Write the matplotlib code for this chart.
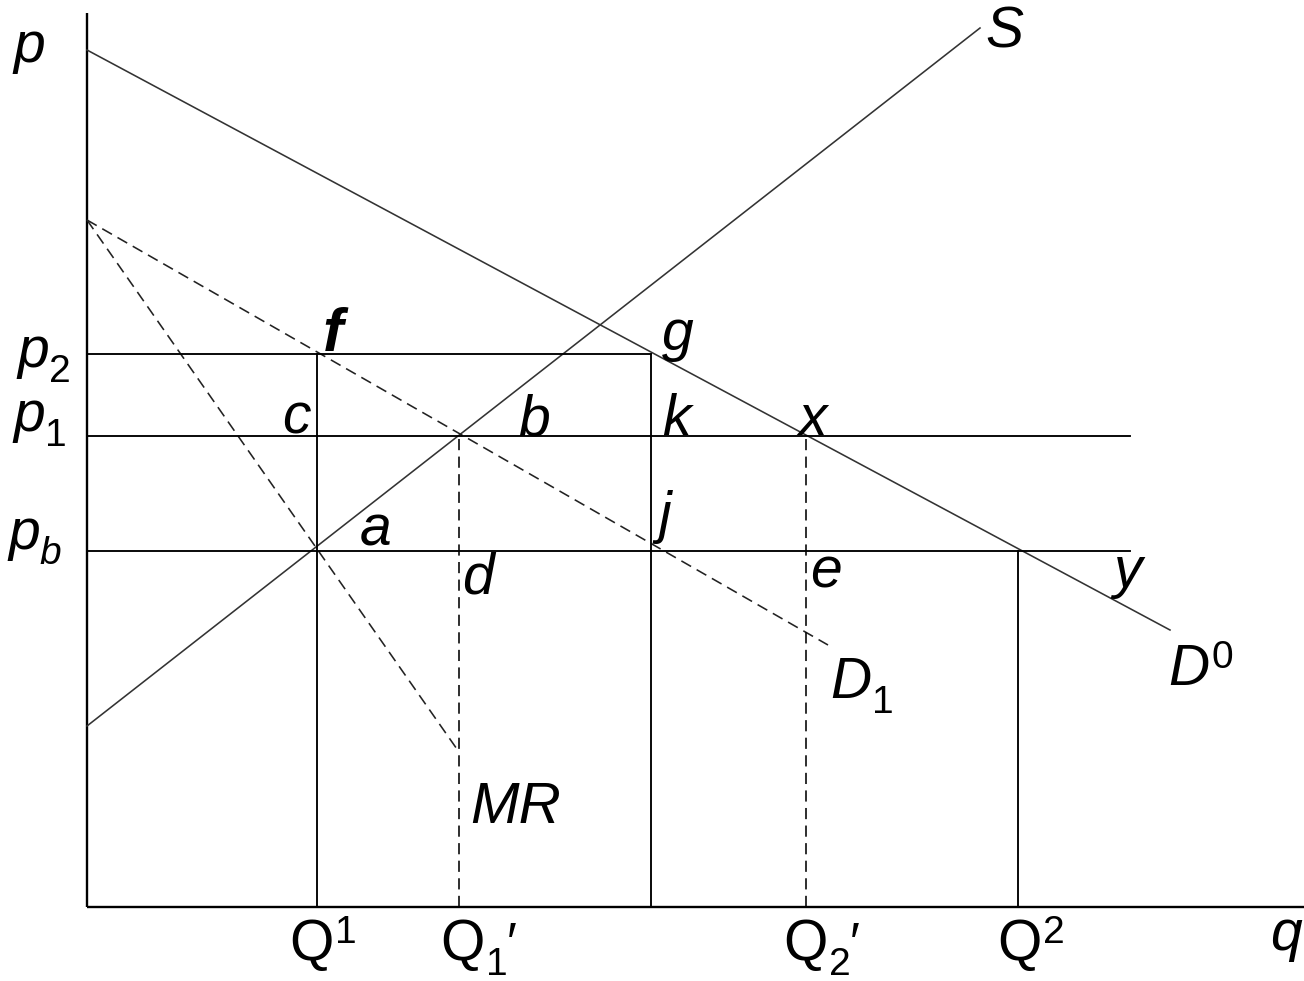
import matplotlib
matplotlib.use("Agg")
import matplotlib.pyplot as plt

plt.rcParams['font.family'] = ['Liberation Sans', 'DejaVu Sans']

# ---- data (quantity q, price p) ----
D0_q = [0, 1083]
D0_p = [857, 277]
S_q = [0, 893]
S_p = [181, 879]
D1_q = [0, 741]
D1_p = [687, 262]
MR_q = [0, 372]
MR_p = [687, 155]

prices = {'p2': 553, 'p1': 471, 'pb': 356}
quantities = {'Q1': 230, "Q1'": 372, 'Qk': 564, "Q2'": 719, 'Q2': 931}
h_line_end = {'p2': 564, 'p1': 1043, 'pb': 1043}
v_line_top = {'Q1': 553, "Q1'": 471, 'Qk': 553, "Q2'": 471, 'Q2': 356}
v_dashed = {"Q1'", "Q2'"}

axis_q_max = 1217
axis_p_max = 894

W, H = 1304, 981
fig = plt.figure(figsize=(W / 100, H / 100), dpi=100)
ax = fig.add_axes([0, 0, 1, 1])
ax.set_xlim(-87, 1217)
ax.set_ylim(-74, 907)
ax.axis('off')

# axes
ax.plot([0, 0], [0, axis_p_max], color='black', lw=1.7, solid_capstyle='butt')
ax.plot([0, axis_q_max], [0, 0], color='black', lw=1.7, solid_capstyle='butt')

# curves
ax.plot(D0_q, D0_p, color='#333333', lw=1.15)
ax.plot(S_q, S_p, color='#333333', lw=1.15)
ax.plot(D1_q, D1_p, color='#222222', lw=1.15, dashes=(7, 4))
ax.plot(MR_q, MR_p, color='#222222', lw=1.15, dashes=(7, 4))

# horizontal price lines
for k, p in prices.items():
    ax.plot([0, h_line_end[k]], [p, p], color='black', lw=1.35)

# vertical quantity lines
for k, q in quantities.items():
    if k in v_dashed:
        ax.plot([q, q], [0, v_line_top[k]], color='black', lw=1.15, dashes=(7, 4))
    else:
        ax.plot([q, q], [0, v_line_top[k]], color='black', lw=1.35)

FS = 41
SS = 28

def px(x, y):
    return x - 87, 907 - y

def lab(x, y, s, size=FS, **kw):
    qx, py = px(x, y)
    return ax.text(qx, py, s, fontsize=size, ha='left', va='baseline', **kw)

# axis / curve labels
lab(13, 62, 'p', style='italic')
lab(985, 47, 'S', style='italic')
lab(470, 823, 'MR', style='italic', size=42)
lab(1270, 950, 'q', style='italic')

# point labels
lab(323, 351, 'f', style='italic', weight='bold', size=44)
for s, x, y in [('g', 662, 350), ('c', 282, 433), ('b', 518, 435),
                ('k', 662, 435), ('x', 798, 435), ('a', 360, 545),
                ('j', 658, 532), ('d', 462, 594), ('e', 810, 587),
                ('y', 1113, 587)]:
    lab(x, y, s, style='italic')

# labels with sub/superscripts:
# (main, x, baseline, script, kind, main style, script style, gap, prime)
scripted = [
    ('p', 17, 367, '2', 'sub', 'italic', 'normal', 0, False),
    ('p', 13, 431, '1', 'sub', 'italic', 'normal', 0, False),
    ('p', 8, 549, 'b', 'sub', 'italic', 'italic', 0, False),
    ('D', 1168, 685, '0', 'sup', 'italic', 'normal', 2, False),
    ('D', 830, 698, '1', 'sub', 'italic', 'normal', 1, False),
    ('Q', 289, 960, '1', 'sup', 'normal', 'normal', 2, False),
    ('Q', 997, 960, '2', 'sup', 'normal', 'normal', 2, False),
    ('Q', 440, 960, '1', 'sub', 'normal', 'normal', 2, True),
    ('Q', 783, 960, '2', 'sub', 'normal', 'normal', 2, True),
]
mains = []
for m, x, y, sc, kind, st, sst, gap, pr in scripted:
    mains.append(lab(x, y, m, style=st))
fig.canvas.draw()
r = fig.canvas.get_renderer()
for t, (m, x, y, sc, kind, st, sst, gap, pr) in zip(mains, scripted):
    bb = t.get_window_extent(r)
    sx = bb.x1 + gap
    sy = y + 15 if kind == 'sub' else y - 17
    ts = lab(sx, sy, sc, size=SS, style=sst)
    if pr:
        fig.canvas.draw()
        bb2 = ts.get_window_extent(r)
        lab(bb2.x1 - 1, y, "\u2032", size=38)

fig.savefig('out.png', dpi=100)
